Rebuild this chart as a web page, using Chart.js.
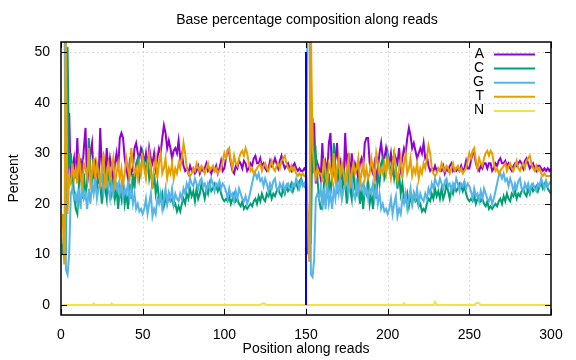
<!DOCTYPE html>
<html>
<head>
<meta charset="utf-8">
<script src="https://cdn.jsdelivr.net/npm/chart.js@4/dist/chart.umd.min.js"></script>
<style>
html,body{margin:0;padding:0;background:#fff;}
#wrap{width:576px;height:360px;position:relative;}
</style>
</head>
<body>
<div id="wrap"><canvas id="c" width="576" height="360"></canvas></div>
<script>
// ---- Data: percentages per read position (read 1 = positions 1-150, read 2 = 151-300) ----
const seriesNames = ["A", "C", "G", "T", "N"];
const xTicks = [0, 50, 100, 150, 200, 250, 300];
const yTicks = [0, 10, 20, 30, 40, 50];

const aRead1 = [
 12, 9, 30, 25, 38, 24, 27, 29, 25, 33,
 24, 29, 26, 31, 35, 24, 27, 30, 32, 25,
 28, 26, 24, 35, 27, 29, 25, 31, 26, 29,
 27, 24, 28, 30, 27, 33, 34, 33, 29, 27,
 25, 28, 26, 27, 31, 32, 30, 29, 31, 30,
 28, 30, 27, 31, 29, 28, 30, 27, 29, 31,
 30, 33, 35.5, 34, 31, 32.5, 31, 29, 30.5, 31,
 30, 32.5, 29, 30, 27.5, 26.5, 27, 26, 27.5, 26.5,
 27, 26, 26.5, 27.5, 26, 27, 26.5, 27, 28, 26.5,
 27, 26, 27, 26.5, 27.5, 26, 27, 28.5, 26.5, 27,
 29, 30.5, 30, 28, 26.5, 26, 27.5, 27, 28.5, 28,
 27, 28.5, 28, 26.5, 27, 28, 27.5, 29, 29.5, 28,
 28, 29, 27.5, 28, 27, 26.5, 27, 28.5, 27.5, 28,
 29, 28, 27, 28.5, 29.5, 28, 27, 27.5, 28, 27,
 26.5, 27.5, 28, 27, 26.5, 27, 26.5, 26.5, 27, 26.5
];
const aRead2 = [
 12, 9.5, 28, 26, 36, 24, 28, 27, 25, 32,
 25, 28, 26, 32, 34, 25, 27, 29, 32, 26,
 28, 25, 24, 34, 27, 30, 25, 30, 26, 28,
 27, 25, 28, 29, 27, 32, 33, 33, 28, 27,
 26, 28, 25, 27, 30, 32, 29, 29, 31, 29,
 28, 30, 27, 30, 29, 28, 31, 27, 29, 31,
 30, 33, 35, 33.5, 31, 32, 30.5, 29, 30, 31,
 30, 32, 29, 29.5, 27.5, 26.5, 27, 26.5, 27.5, 26.5,
 27, 26.5, 26.5, 27.5, 26, 27, 26.5, 27.5, 28, 26.5,
 27, 26.5, 27, 26.5, 27.5, 26.5, 27, 28.5, 27, 27,
 28.5, 30, 30, 28, 27, 26.5, 27.5, 27, 28, 28,
 27, 28, 28, 26.5, 27, 28, 27.5, 28.5, 29, 28,
 28, 28.5, 27.5, 28, 27, 26.5, 27.5, 28, 27.5, 28,
 28.5, 28, 27, 28.5, 29, 28, 27, 27.5, 28, 27,
 26.5, 27.5, 27.5, 27, 26.5, 27, 26.5, 27, 26.5, 27
];

const cRead1 = [
 10, 15, 10, 51, 27, 30, 26, 22, 19, 18,
 24, 28, 21, 26, 22, 24, 33, 27, 23, 29,
 25, 22, 27, 24, 20, 26, 23, 21, 28, 24,
 22, 25, 21, 23, 19, 23, 21, 25, 20, 22,
 19, 24, 21, 26, 23, 28, 29, 25, 27, 30,
 28, 26, 29, 25, 27, 23, 26, 22, 24, 21,
 20.5, 22, 19.5, 21, 20, 22, 20.5, 21, 19.5, 20,
 18.5, 19.5, 18.5, 20, 21, 20, 22, 21, 23, 21.5,
 22.5, 20.5, 23, 21, 22, 24, 22.5, 21, 23, 22,
 24, 22.5, 23, 24, 23.5, 22.5, 23.5, 22, 21, 20.5,
 21, 20.5, 21.5, 20, 21, 22, 20.5, 21, 20, 19.5,
 20.5, 19, 19.5, 19, 19.5, 20, 19.5, 20.5, 21, 20,
 21.5, 20.5, 22, 21, 20.5, 22, 21.5, 22.5, 21, 22,
 21.5, 22.5, 23, 22, 21.5, 23, 22, 23.5, 22.5, 23,
 24, 22.5, 23.5, 24, 23, 24.5, 25, 24, 23.5, 24.5
];
const cRead2 = [
 10, 14, 12, 37, 28, 30, 25, 21, 19, 19,
 24, 27, 21, 26, 22, 25, 32, 27, 22, 29,
 25, 21, 27, 24, 20, 27, 23, 21, 28, 23,
 22, 25, 20, 23, 19, 23, 22, 25, 20, 22,
 19, 24, 21, 26, 24, 28, 29, 25, 26, 30,
 28, 26, 28, 25, 27, 23, 26, 22, 24, 21,
 20.5, 22, 19.5, 21.5, 20, 22, 20.5, 21, 19.5, 20,
 18.5, 19, 18.5, 20, 21, 20.5, 22, 21, 23, 21.5,
 22.5, 21, 23, 21, 22, 24, 22.5, 21, 23, 22,
 23.5, 22.5, 23, 24, 23.5, 22.5, 23.5, 22, 21, 20.5,
 21, 20.5, 21.5, 20, 21, 21.5, 20.5, 21, 20, 19.5,
 20.5, 19, 19.5, 19, 19.5, 20, 19.5, 20.5, 21, 20,
 21.5, 20.5, 22, 21, 20.5, 22, 21.5, 22.5, 21, 22,
 21.5, 22.5, 23, 22, 21.5, 23, 22, 23.5, 22.5, 23,
 23.5, 22.5, 23.5, 24, 23, 24, 24.5, 23, 22.5, 22
];

const gRead1 = [
 60, 68, 7, 6, 10, 22, 23, 21, 22, 20,
 23, 19, 24, 21, 22, 19, 23, 20, 24, 22,
 25, 21, 23, 24, 26, 22, 24, 25, 23, 21,
 24, 22, 25, 23, 24, 22, 24, 21, 23, 22,
 24, 21, 23, 20, 22, 19, 20, 18.5, 19, 18,
 19, 21, 18, 20, 22, 17.5, 19, 18, 21, 20,
 22, 19, 21, 23, 20, 22, 21, 23, 20, 22,
 21, 20.5, 22, 21, 23, 22, 24, 23, 25, 24,
 23.5, 25, 24, 23, 24.5, 25, 23.5, 24, 22.5, 24,
 23, 25, 24, 22.5, 24, 23.5, 24.5, 23, 24, 23.5,
 22.5, 21, 23, 21.5, 22, 20.5, 22.5, 21, 23, 22,
 21, 20.5, 21.5, 20, 21, 22.5, 24, 25.5, 26, 25,
 26, 24.5, 25, 23.5, 25, 24, 22.5, 24, 23, 24.5,
 25, 23, 22.5, 24, 23, 24, 22.5, 23.5, 24, 23,
 22.5, 24, 23.5, 25, 24, 23, 24.5, 23.5, 24, 23
];
const gRead2 = [
 60, 68, 6, 5.5, 9, 21, 22, 21, 23, 20,
 23, 19, 24, 20, 22, 19, 23, 21, 24, 22,
 25, 21, 23, 24, 26, 22, 24, 25, 22, 21,
 24, 22, 25, 23, 24, 22, 23, 21, 23, 22,
 24, 21, 23, 20, 22, 19, 20, 18.5, 19, 18,
 19, 21, 18, 20, 21.5, 17.5, 19, 18, 21, 20,
 22, 19, 21, 23, 20, 22, 21, 23, 20, 22,
 21, 20.5, 22, 21, 23, 22, 24, 23, 25, 24,
 23.5, 25, 24, 23, 24.5, 25, 23.5, 24, 22.5, 24,
 23, 25, 24, 22.5, 24, 23.5, 24.5, 23, 24, 23.5,
 22.5, 21, 23, 21.5, 22, 20.5, 22.5, 21, 23, 22,
 21, 20.5, 21.5, 20, 21, 22.5, 24, 25.5, 26, 25,
 26, 24.5, 25, 23.5, 25, 24, 22.5, 24, 23, 24.5,
 25, 23, 22.5, 24, 23, 24, 22.5, 23.5, 24, 23,
 22.5, 24, 23.5, 25, 24, 23, 24.5, 23.5, 24, 24.5
];

const tRead1 = [
 18, 8, 53, 18, 25, 24, 28, 25, 27, 24,
 30, 26, 23, 28, 27, 25, 31, 24, 26, 29,
 25, 28, 26, 24, 27, 30, 23, 26, 28, 25,
 27, 29, 24, 26, 28, 25, 27, 24, 26, 29,
 27, 25, 31, 28, 26, 27, 25, 28, 26, 29,
 27, 25, 28, 30, 26, 24, 27, 29, 25, 28,
 30, 26, 27, 29, 25, 27, 26, 28, 25, 27,
 26, 28, 27, 29, 32, 30, 27, 26, 25.5, 26,
 27, 26.5, 28, 27, 26.5, 27.5, 27, 26, 27, 28,
 26.5, 27, 27.5, 26.5, 27, 26, 26.5, 27, 28.5, 30,
 29, 30.5, 31, 28.5, 27, 29.5, 28, 27.5, 29, 30,
 30.5, 29.5, 31, 30, 28, 26.5, 27, 26, 26.5, 27,
 27.5, 28, 26.5, 27.5, 28, 27, 26.5, 27.5, 28.5, 27,
 26.5, 27.5, 28, 27, 28.5, 29, 29.5, 28, 27, 26.5,
 27.5, 26.5, 27, 26, 25.5, 26, 25.5, 26, 25.5, 25.5
];
const tRead2 = [
 18, 8.5, 54, 31.5, 27, 25, 27, 26, 26, 25,
 29, 26, 24, 28, 27, 25, 30, 24, 27, 29,
 25, 28, 26, 24, 27, 29, 24, 26, 28, 26,
 27, 29, 24, 26, 28, 25, 27, 25, 26, 29,
 27, 25, 30, 28, 26, 27, 26, 28, 26, 29,
 27, 25, 28, 30, 26, 24.5, 27, 29, 25, 28,
 30, 26, 27, 29, 25.5, 27, 26, 28, 25, 27,
 26, 28, 27, 29, 31.5, 30, 27, 26, 25.5, 26,
 27, 26.5, 28, 27, 26.5, 27.5, 27, 26, 27, 28,
 26.5, 27, 27.5, 26.5, 27, 26, 26.5, 27, 28.5, 30,
 29, 30.5, 31, 28.5, 27, 29, 28, 27.5, 29, 30,
 30.5, 29.5, 30.5, 30, 28, 26.5, 27, 26, 26.5, 27,
 27.5, 28, 26.5, 27.5, 28, 27, 26.5, 27.5, 28.5, 27,
 26.5, 27.5, 28, 27, 28.5, 29, 29.5, 28, 27, 26.5,
 27.5, 26.5, 27, 26, 25.5, 26, 25.5, 25.5, 25.5, 25.5
];

const nRead1 = [
 0, 0, 0, 0, 0, 0, 0, 0, 0, 0,
 0, 0, 0, 0, 0, 0, 0, 0, 0, 0.3,
 0, 0, 0, 0, 0, 0, 0, 0, 0, 0,
 0.3, 0, 0, 0, 0, 0, 0, 0, 0, 0,
 0, 0, 0, 0, 0, 0, 0, 0, 0, 0,
 0, 0, 0, 0, 0, 0, 0, 0, 0, 0,
 0, 0, 0, 0, 0, 0, 0, 0, 0, 0,
 0, 0, 0, 0, 0, 0, 0, 0, 0, 0,
 0, 0, 0, 0, 0, 0, 0, 0, 0, 0,
 0, 0, 0, 0, 0, 0, 0, 0, 0, 0,
 0, 0, 0, 0, 0, 0, 0, 0, 0, 0,
 0, 0, 0, 0, 0, 0, 0, 0, 0, 0,
 0, 0, 0.2, 0.3, 0.2, 0, 0, 0, 0, 0,
 0, 0, 0, 0, 0, 0, 0, 0, 0, 0,
 0, 0, 0, 0, 0, 0, 0, 0, 0, 0
];
const nRead2 = [
 0, 0, 0, 0, 0, 0, 0, 0, 0, 0,
 0, 0, 0, 0, 0, 0, 0, 0, 0, 0,
 0, 0, 0, 0, 0, 0, 0, 0, 0, 0,
 0, 0, 0, 0, 0, 0, 0, 0, 0, 0,
 0, 0, 0, 0, 0, 0, 0, 0, 0, 0,
 0, 0, 0, 0, 0, 0, 0, 0, 0, 0.3,
 0, 0, 0, 0, 0, 0, 0, 0, 0, 0,
 0, 0, 0, 0, 0, 0, 0, 0, 0.6, 0,
 0, 0, 0, 0, 0, 0, 0, 0, 0, 0,
 0, 0, 0, 0, 0, 0, 0, 0, 0, 0,
 0, 0, 0, 0.3, 0.4, 0.3, 0, 0, 0, 0,
 0, 0, 0, 0, 0, 0, 0, 0, 0, 0,
 0, 0, 0, 0, 0, 0, 0, 0, 0, 0,
 0, 0, 0, 0, 0, 0, 0, 0, 0, 0,
 0, 0, 0, 0, 0, 0, 0, 0, 0, 0
];

// read boundary marker (position 150, from 0% to 50%)
const boundaryX = [150, 150];
const boundaryY = [0, 50];

const colors = ["#9400d3", "#009e73", "#56b4e9", "#e69f00", "#f0e442"];

// ---- Build datasets from the arrays ----
function toPoints(r1, r2) {
  const all = r1.concat(r2);
  return all.map((v, i) => ({ x: i + 1, y: v }));
}
const seriesData = [
  toPoints(aRead1, aRead2),
  toPoints(cRead1, cRead2),
  toPoints(gRead1, gRead2),
  toPoints(tRead1, tRead2),
  toPoints(nRead1, nRead2)
];

const datasets = seriesNames.map((name, i) => ({
  label: name,
  data: seriesData[i],
  borderColor: colors[i],
  backgroundColor: colors[i],
  borderWidth: 2,
  pointRadius: 0,
  tension: 0,
  fill: false,
  order: 10 - i
}));
datasets.push({
  label: "boundary",
  data: boundaryX.map((x, i) => ({ x: x, y: boundaryY[i] })),
  borderColor: "#0000ff",
  borderWidth: 2,
  pointRadius: 0,
  fill: false,
  order: 0
});

const FONT = "'Liberation Sans', Arial, sans-serif";
const FS = 14;

const framePlugin = {
  id: "frame",
  beforeDatasetsDraw(chart) {
    const { ctx, chartArea: a, scales: { x, y } } = chart;
    ctx.save();
    ctx.strokeStyle = "#cfcfcf";
    ctx.lineWidth = 1;
    ctx.setLineDash([1.5, 3]);
    xTicks.forEach(t => {
      if (t <= 0 || t >= 300) return;
      const px = Math.round(x.getPixelForValue(t)) + 0.5;
      ctx.beginPath(); ctx.moveTo(px, a.top); ctx.lineTo(px, a.bottom); ctx.stroke();
    });
    yTicks.forEach(t => {
      const py = Math.round(y.getPixelForValue(t)) + 0.5;
      ctx.beginPath(); ctx.moveTo(a.left, py); ctx.lineTo(a.right, py); ctx.stroke();
    });
    ctx.restore();
  },
  afterDatasetsDraw(chart) {
    const { ctx, chartArea: a, scales: { x, y } } = chart;
    ctx.save();
    ctx.strokeStyle = "#000";
    ctx.setLineDash([]);
    ctx.lineWidth = 1;
    const tl = 6;
    xTicks.forEach(t => {
      const px = Math.round(x.getPixelForValue(t)) + 0.5;
      ctx.beginPath();
      ctx.moveTo(px, a.bottom); ctx.lineTo(px, a.bottom - tl);
      ctx.moveTo(px, a.top); ctx.lineTo(px, a.top + tl);
      ctx.stroke();
    });
    yTicks.forEach(t => {
      const py = Math.round(y.getPixelForValue(t)) + 0.5;
      ctx.beginPath();
      ctx.moveTo(a.left, py); ctx.lineTo(a.left + tl, py);
      ctx.moveTo(a.right, py); ctx.lineTo(a.right - tl, py);
      ctx.stroke();
    });
    ctx.lineWidth = 1.5;
    ctx.strokeRect(a.left, a.top, a.right - a.left, a.bottom - a.top);

    // legend (inside, top-right)
    ctx.font = FS + "px " + FONT;
    ctx.fillStyle = "#000";
    ctx.textAlign = "right";
    ctx.textBaseline = "middle";
    seriesNames.forEach((name, i) => {
      const yy = 54 + i * 14.1;
      ctx.fillText(name, 484, yy);
      ctx.strokeStyle = colors[i];
      ctx.lineWidth = 2;
      ctx.beginPath(); ctx.moveTo(494, yy + 0.5); ctx.lineTo(535, yy + 0.5); ctx.stroke();
    });

    // title
    ctx.textAlign = "center";
    ctx.fillStyle = "#000";
    ctx.fillText("Base percentage composition along reads", (a.left + a.right) / 2 + 1, 20);
    ctx.restore();
  }
};

new Chart(document.getElementById("c"), {
  type: "line",
  data: { datasets: datasets },
  options: {
    responsive: false,
    animation: false,
    events: [],
    layout: { padding: { top: 42, right: 25, left: 0, bottom: 0 } },
    plugins: { legend: { display: false }, title: { display: false }, tooltip: { enabled: false } },
    scales: {
      x: {
        type: "linear",
        min: 0, max: 300,
        afterBuildTicks: s => { s.ticks = xTicks.map(v => ({ value: v })); },
        afterFit: s => { s.height = 45; },
        grid: { display: false },
        border: { display: false },
        ticks: { color: "#000", font: { family: FONT, size: FS }, padding: 4, maxRotation: 0, autoSkip: false },
        title: { display: true, text: "Position along reads", color: "#000", font: { family: FONT, size: FS }, padding: { top: 0, bottom: 2 } }
      },
      y: {
        type: "linear",
        min: -2, max: 52,
        afterBuildTicks: s => { s.ticks = yTicks.map(v => ({ value: v })); },
        afterFit: s => { s.width = 61; },
        grid: { display: false },
        border: { display: false },
        ticks: { color: "#000", font: { family: FONT, size: FS }, padding: 3 },
        title: { display: true, text: "Percent", color: "#000", font: { family: FONT, size: FS }, padding: { top: 6, bottom: 0 } }
      }
    }
  },
  plugins: [framePlugin]
});
</script>
</body>
</html>
